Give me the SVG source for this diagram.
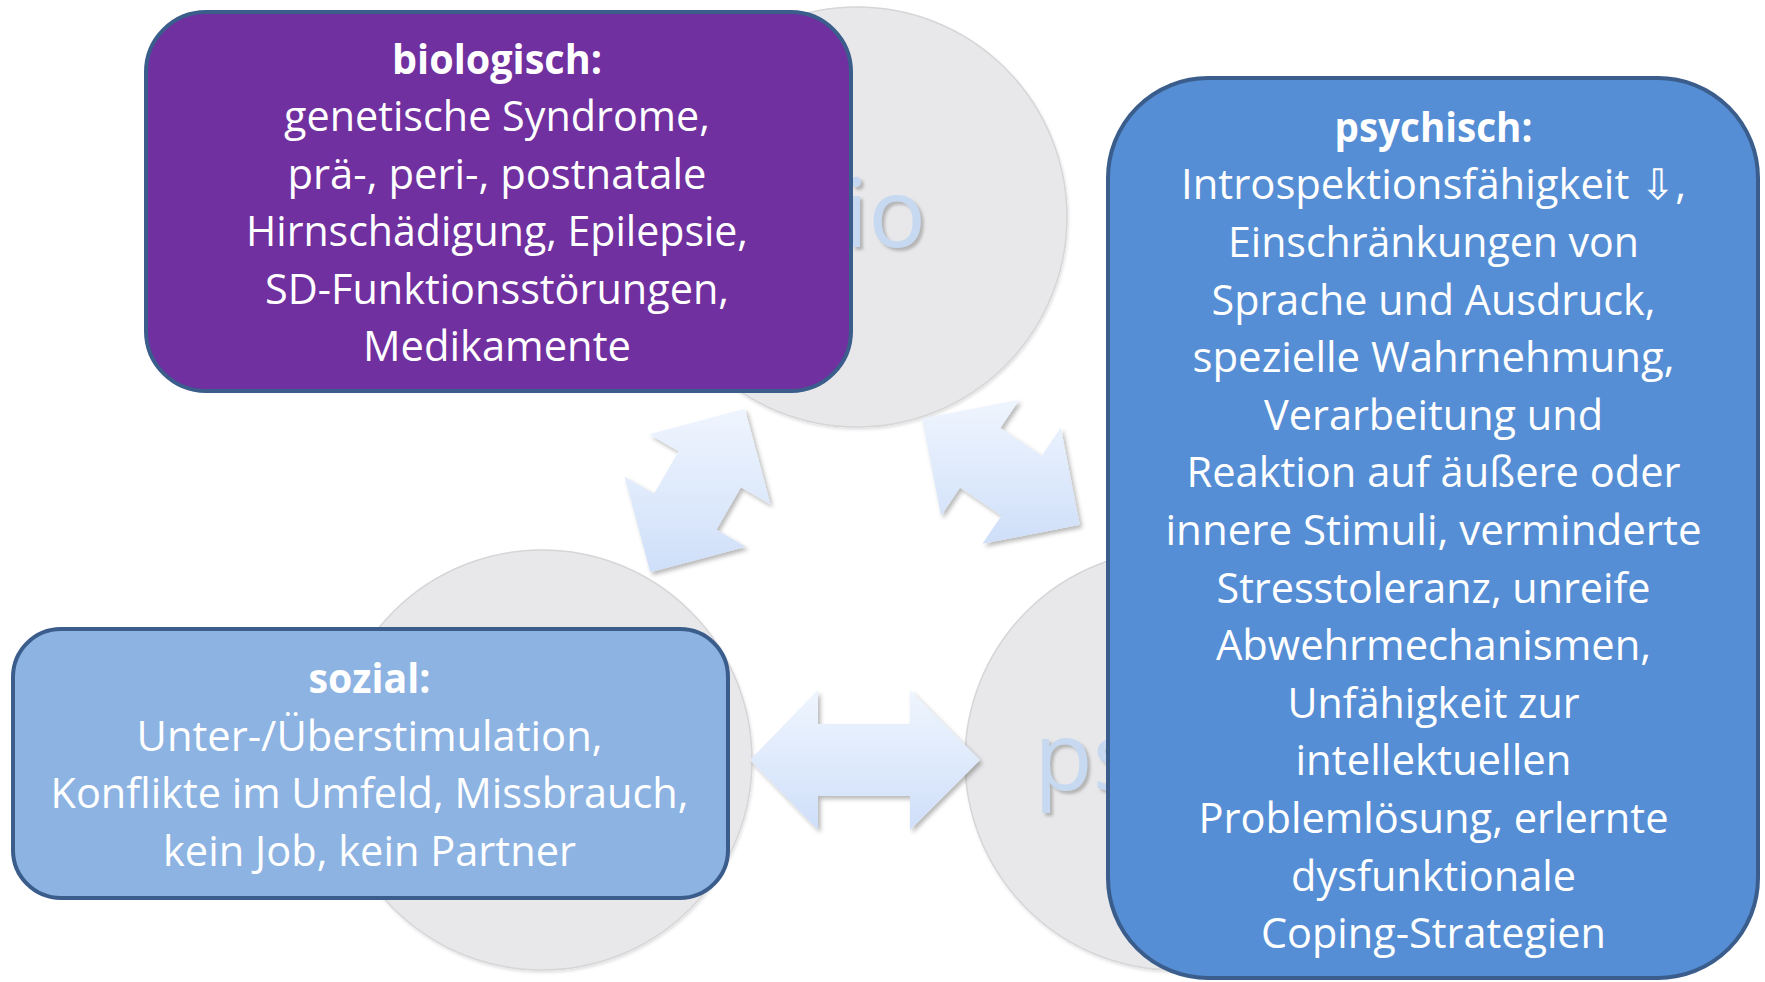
<svg xmlns="http://www.w3.org/2000/svg" width="1765" height="982" viewBox="0 0 1765 982">
<defs>
<linearGradient id="arrowFill" x1="0" y1="0" x2="0" y2="1">
<stop offset="0" stop-color="#eff5fe"/>
<stop offset="1" stop-color="#cfdff9"/>
</linearGradient>
<filter id="arrowShadow" x="-20%" y="-20%" width="140%" height="140%">
<feDropShadow dx="2.5" dy="3" stdDeviation="2" flood-color="#000" flood-opacity="0.28"/>
</filter>
<filter id="circleShadow" x="-10%" y="-10%" width="120%" height="120%">
<feDropShadow dx="1" dy="2" stdDeviation="1.5" flood-color="#000" flood-opacity="0.12"/>
</filter>
<filter id="textShadow" x="-10%" y="-10%" width="130%" height="130%">
<feDropShadow dx="3" dy="3" stdDeviation="1.5" flood-color="#8a8a8a" flood-opacity="0.55"/>
</filter>
</defs>
<style>
.circle { fill:#e8e8ea; stroke:#d6d6d8; stroke-width:1.5; filter:url(#circleShadow); }
.ctext { font-family: "Open Sans", Lato, sans-serif; font-size:96px; fill:#c6d9f1; filter:url(#textShadow); }
.box { stroke:#3a5d8c; stroke-width:4; }
.t { font-family: "Open Sans", "Liberation Sans", sans-serif; font-size:42px; fill:#ffffff; text-anchor:middle; }
.h { font-weight:700; }
.sym { font-family: "DejaVu Sans", sans-serif; }
.arrow { fill:url(#arrowFill); filter:url(#arrowShadow); }
</style>
<rect x="0" y="0" width="1765" height="982" fill="#ffffff"/>

<g id="node-bio">
<circle class="circle" cx="857" cy="217" r="210"/>
<text class="ctext" x="844" y="247">io</text>
<rect class="box" x="146" y="12" width="705" height="379" rx="60" ry="60" fill="#7030a0"/>
<text class="t h" x="497" y="73.5" textLength="210" lengthAdjust="spacingAndGlyphs">biologisch:</text>
<text class="t" x="497" y="131" textLength="426" lengthAdjust="spacingAndGlyphs">genetische Syndrome,</text>
<text class="t" x="497" y="188.5" textLength="419" lengthAdjust="spacingAndGlyphs">prä-, peri-, postnatale</text>
<text class="t" x="497" y="246" textLength="502" lengthAdjust="spacingAndGlyphs">Hirnschädigung, Epilepsie,</text>
<text class="t" x="497" y="303.5" textLength="464" lengthAdjust="spacingAndGlyphs">SD-Funktionsstörungen,</text>
<text class="t" x="497" y="361" textLength="268" lengthAdjust="spacingAndGlyphs">Medikamente</text>
</g>

<g id="node-sozial">
<circle class="circle" cx="542" cy="760" r="210"/>
<rect class="box" x="13" y="629" width="715" height="269" rx="48" ry="48" fill="#8db3e2"/>
<text class="t h" x="369.5" y="693" textLength="122" lengthAdjust="spacingAndGlyphs">sozial:</text>
<text class="t" x="369.5" y="750.6" textLength="466" lengthAdjust="spacingAndGlyphs">Unter-/Überstimulation,</text>
<text class="t" x="369.5" y="808.2" textLength="638" lengthAdjust="spacingAndGlyphs">Konflikte im Umfeld, Missbrauch,</text>
<text class="t" x="369.5" y="865.8" textLength="413" lengthAdjust="spacingAndGlyphs">kein Job, kein Partner</text>
</g>

<g id="node-psychisch">
<circle class="circle" cx="1175" cy="760" r="210"/>
<text class="ctext" x="1034" y="790">ps</text>
<rect class="box" x="1108" y="78" width="650" height="900" rx="100" ry="100" fill="#558ed5"/>
<text class="t h" x="1433.5" y="141.7" textLength="198" lengthAdjust="spacingAndGlyphs">psychisch:</text>
<text class="t" x="1433.5" y="199.3" textLength="505" lengthAdjust="spacingAndGlyphs">Introspektionsfähigkeit <tspan class="sym">⇩</tspan>,</text>
<text class="t" x="1433.5" y="256.9" textLength="411" lengthAdjust="spacingAndGlyphs">Einschränkungen von</text>
<text class="t" x="1433.5" y="314.5" textLength="444" lengthAdjust="spacingAndGlyphs">Sprache und Ausdruck,</text>
<text class="t" x="1433.5" y="372.1" textLength="482" lengthAdjust="spacingAndGlyphs">spezielle Wahrnehmung,</text>
<text class="t" x="1433.5" y="429.7" textLength="339" lengthAdjust="spacingAndGlyphs">Verarbeitung und</text>
<text class="t" x="1433.5" y="487.3" textLength="494" lengthAdjust="spacingAndGlyphs">Reaktion auf äußere oder</text>
<text class="t" x="1433.5" y="544.9" textLength="536" lengthAdjust="spacingAndGlyphs">innere Stimuli, verminderte</text>
<text class="t" x="1433.5" y="602.5" textLength="434" lengthAdjust="spacingAndGlyphs">Stresstoleranz, unreife</text>
<text class="t" x="1433.5" y="660.1" textLength="435" lengthAdjust="spacingAndGlyphs">Abwehrmechanismen,</text>
<text class="t" x="1433.5" y="717.7" textLength="292" lengthAdjust="spacingAndGlyphs">Unfähigkeit zur</text>
<text class="t" x="1433.5" y="775.3" textLength="276" lengthAdjust="spacingAndGlyphs">intellektuellen</text>
<text class="t" x="1433.5" y="832.9" textLength="470" lengthAdjust="spacingAndGlyphs">Problemlösung, erlernte</text>
<text class="t" x="1433.5" y="890.5" textLength="285" lengthAdjust="spacingAndGlyphs">dysfunktionale</text>
<text class="t" x="1433.5" y="948.1" textLength="345" lengthAdjust="spacingAndGlyphs">Coping-Strategien</text>
</g>

<g id="connectors">
<polygon id="arrow-bio-sozial" class="arrow" points="650.3,572.3 624.6,476.7 654.1,493.7 678.6,451.3 649.1,434.3 744.8,408.7 770.4,504.3 740.9,487.3 716.4,529.7 745.9,546.7"/>
<polygon id="arrow-bio-psychisch" class="arrow" points="922.1,418.6 1019.3,399.7 1000.3,427.9 1041.8,455.8 1060.8,427.6 1079.7,524.8 982.5,543.7 1001.5,515.5 960.0,487.6 941.0,515.8"/>
<polygon id="arrow-sozial-psychisch" class="arrow" points="750,760 818,690 818,724 910,724 910,690 980,760 910,830 910,796 818,796 818,830"/>
</g>
</svg>
